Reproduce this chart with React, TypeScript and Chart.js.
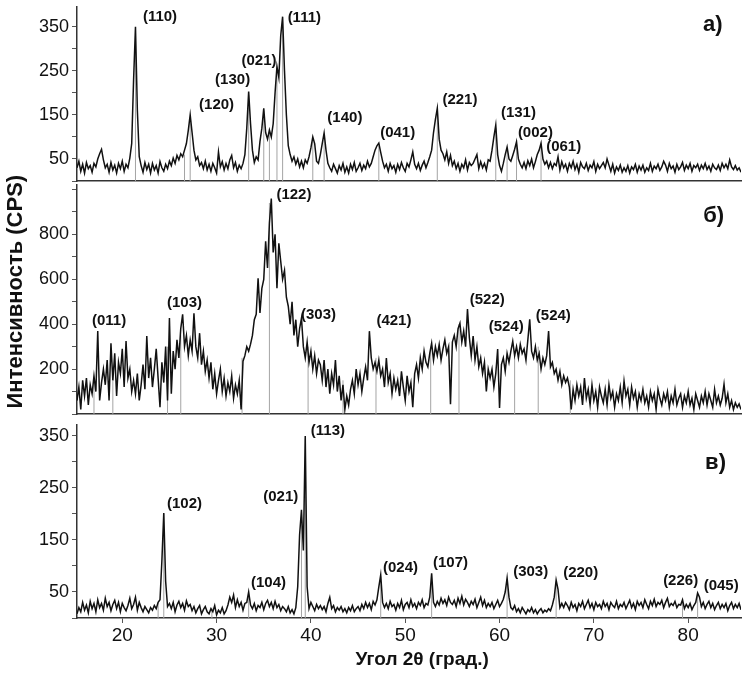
import React, { useEffect, useRef } from 'react';
import { Chart, registerables } from 'chart.js';

Chart.register(...registerables);

const FONT = "'Liberation Sans', Arial, Helvetica, sans-serif";

// 2θ sampling of the scans (degrees)
const X_START = 15.2;
const X_STEP = 0.2;
const X_MIN = 15.2;
const X_MAX = 85.6;
const X_TICKS = [20, 30, 40, 50, 60, 70, 80];

// Y tick positions / labelled ticks
const Y_TICKS_A = [0, 50, 100, 150, 200, 250, 300, 350];
const Y_LABELS_A = [50, 150, 250, 350];
const Y_TICKS_B = [0, 100, 200, 300, 400, 500, 600, 700, 800, 900, 1000];
const Y_LABELS_B = [200, 400, 600, 800];
const Y_TICKS_C = [0, 50, 100, 150, 200, 250, 300, 350];
const Y_LABELS_C = [50, 150, 250, 350];

// Panel a) intensity (CPS), one row = 2 degrees
const intensityA = [
  30, 45, 22, 38, 18, 42, 28, 35, 20, 40,
  32, 50, 62, 72, 48, 30, 38, 20, 42, 25,
  36, 18, 40, 28, 45, 22, 38, 30, 52, 85,
  230, 350, 160, 55, 35, 20, 42, 26, 38, 18,
  40, 25, 35, 18, 44, 30, 22, 38, 28, 45,
  35, 52, 40, 58, 48, 62, 55, 70, 85, 115,
  150, 110, 70, 48, 55, 35, 42, 28, 45, 25,
  38, 22, 40, 30, 18, 66, 32, 44, 25, 40,
  28, 48, 58, 30, 42, 22, 36, 28, 40, 60,
  120, 203, 130, 70, 42, 55, 48, 90, 120, 165,
  110, 95, 116, 100, 130, 200, 260, 235, 330, 373,
  250, 150, 80, 60, 45, 55, 38, 50, 32, 45,
  30, 48, 40, 55, 75, 100, 85, 45, 40, 60,
  85, 109, 70, 40, 30, 22, 38, 28, 18, 35,
  25, 40, 20, 32, 18, 38, 26, 42, 22, 30,
  40, 24, 36, 28, 45, 32, 40, 55, 70, 80,
  86, 65, 45, 30, 38, 22, 40, 28, 35, 20,
  38, 26, 42, 30, 22, 40, 32, 48, 66, 38,
  28, 40, 24, 36, 45, 30, 42, 55, 70, 110,
  140, 165, 95, 70, 62, 48, 66, 40, 58, 35,
  45, 28, 40, 22, 38, 30, 48, 25, 42, 35,
  40, 50, 60, 28, 44, 30, 40, 25, 48, 45,
  70, 100, 127, 60, 35, 22, 40, 60, 77, 50,
  45, 58, 72, 89, 50, 38, 30, 42, 28, 46,
  35, 50, 30, 44, 60, 70, 86, 50, 38, 45,
  30, 42, 28, 40, 35, 55, 25, 44, 30, 38,
  22, 40, 30, 45, 26, 38, 20, 42, 32, 28,
  40, 24, 36, 30, 44, 22, 38, 28, 35, 42,
  30, 50, 36, 22, 38, 18, 32, 24, 36, 20,
  30, 22, 35, 18, 32, 26, 38, 20, 34, 25,
  36, 20, 30, 24, 40, 22, 34, 28, 38, 24,
  32, 45, 36, 22, 40, 28, 34, 20, 38, 26,
  32, 42, 24, 36, 28, 40, 22, 35, 30, 38,
  24, 36, 28, 40, 26, 34, 22, 38, 30, 26,
  36, 24, 40, 30, 38, 28, 48, 32, 26, 35,
  25, 30, 20,
];

// Panel б) intensity (CPS)
const intensityB = [
  60, 120, 20, 150, 80, 160, 40, 130, 90, 170,
  100, 370, 60, 140, 200, 130, 240, 60, 315, 150,
  270, 80, 230, 180, 290, 120, 325, 160, 200, 100,
  150, 90, 180, 60, 130, 220, 110, 347, 160, 250,
  120, 200, 290, 160, 30, 230, 140, 300, 60, 427,
  90, 280, 200, 330, 250, 380, 444, 300, 350, 260,
  330, 280, 449, 300, 250, 360, 220, 280, 190, 240,
  160, 230, 110, 180, 90, 150, 200, 100, 160, 80,
  140, 100, 170, 70, 130, 90, 150, 20, 235, 260,
  300, 280, 311, 350, 420, 444, 605, 450, 560, 600,
  769, 650, 850, 960, 720, 800, 560, 760, 680, 600,
  640, 520, 480, 400, 500, 350, 420, 300, 380, 427,
  300, 250, 320, 230, 280, 200, 260, 180, 240, 220,
  150, 240, 120, 200, 90, 180, 130, 240, 100, 170,
  60, 130, 20, 80, 40, 110, 150, 90, 200, 130,
  180, 100, 160, 210, 150, 369, 250, 200, 230, 190,
  240, 170, 200, 120, 249, 140, 180, 90, 160, 110,
  150, 80, 190, 120, 60, 170, 100, 140, 30, 180,
  220, 160, 250, 200, 280, 230, 210, 270, 316, 240,
  300, 260, 310, 240, 290, 330, 270, 300, 44, 320,
  350, 300, 380, 404, 320, 370, 300, 467, 340, 260,
  347, 240, 300, 210, 250, 180, 230, 100, 200, 160,
  200, 120, 180, 289, 27, 220, 250, 190, 270, 230,
  280, 324, 260, 300, 250, 310, 270, 290, 240, 330,
  422, 280, 250, 300, 240, 270, 200, 250, 220, 260,
  369, 210, 230, 180, 200, 150, 190, 130, 170, 140,
  160, 120, 20, 110, 60, 130, 80, 120, 40, 160,
  70, 110, 40, 130, 60, 100, 30, 120, 80, 50,
  110, 40, 130, 70, 100, 30, 90, 60, 120, 50,
  147, 80, 110, 40, 120, 70, 100, 30, 90, 60,
  110, 50, 80, 30, 100, 60, 90, 20, 110, 70,
  40, 90, 60, 100, 30, 80, 50, 110, 40, 70,
  90, 30, 80, 50, 100, 40, 70, 20, 90, 60,
  30, 80, 50, 100, 40, 90, 60, 30, 110, 50,
  80, 40, 70, 133, 50, 90, 30, 60, 20, 50,
  30, 45, 20,
];

// Panel в) intensity (CPS)
const intensityC = [
  8, 20, 12, 30, 15, 25, 10, 32, 18, 28,
  12, 35, 20, 28, 15, 38, 22, 30, 14, 26,
  34, 18, 30, 12, 28, 20, 14, 24, 38, 18,
  26, 40, 15, 30, 20, 12, 22, 16, 10, 20,
  15, 24, 18, 30, 35, 110, 202, 70, 22, 28,
  18, 30, 12, 25, 32, 20, 28, 15, 33, 22,
  26, 14, 22, 10, 18, 24, 8, 16, 22, 12,
  8, 18, 12, 24, 6, 15, 10, 20, 8, 14,
  25, 40, 30, 44, 20, 35, 22, 30, 15, 28,
  30, 50, 25, 18, 28, 14, 24, 20, 30, 16,
  28, 34, 22, 30, 18, 32, 20, 26, 14, 22,
  18, 12, 22, 10, 16, 8, 20, 60, 160, 208,
  130, 350, 60, 18, 30, 22, 14, 26, 18, 24,
  16, 22, 12, 28, 40, 18, 24, 12, 20, 15,
  22, 12, 18, 10, 20, 14, 24, 12, 18, 22,
  14, 26, 18, 30, 20, 28, 16, 32, 25, 35,
  60, 83, 30, 20, 28, 18, 32, 22, 26, 15,
  28, 20, 34, 16, 26, 30, 20, 35, 22, 28,
  18, 30, 24, 35, 20, 28, 25, 40, 86, 30,
  22, 32, 25, 38, 28, 35, 24, 40, 30, 26,
  34, 22, 38, 28, 42, 25, 36, 30, 22, 32,
  26, 36, 20, 30, 40, 24, 34, 20, 28, 22,
  30, 18, 26, 34, 22, 28, 36, 50, 77, 40,
  20, 16, 24, 12, 18, 10, 20, 14, 8, 16,
  12, 20, 10, 16, 8, 14, 18, 10, 15, 12,
  18, 14, 25, 40, 73, 55, 20, 28, 20, 30,
  24, 16, 30, 20, 26, 14, 28, 22, 32, 18,
  26, 34, 20, 28, 16, 30, 22, 26, 18, 32,
  22, 28, 16, 30, 24, 20, 32, 18, 26, 22,
  30, 18, 26, 34, 20, 28, 16, 32, 24, 30,
  20, 35, 26, 18, 32, 24, 36, 22, 30, 26,
  34, 20, 30, 38, 22, 28, 24, 32, 20, 26,
  25, 35, 18, 26, 20, 28, 16, 24, 30, 48,
  40, 22, 30, 18, 26, 32, 20, 28, 16, 24,
  30, 18, 26, 20, 28, 14, 24, 30, 18, 26,
  20, 28, 16,
];

// Reference (stick) lines: positions (2θ) and heights
const sticksPosA = [21.4, 26.6, 27.2, 33.4, 35.0, 35.6, 36.4, 37.0, 40.2, 41.4, 47.2, 53.4, 59.6, 60.8, 61.8, 64.4];
const sticksHA = [340, 60, 140, 195, 160, 110, 250, 360, 95, 105, 80, 160, 120, 70, 85, 80];
const sticksPosB = [17.0, 19.0, 24.8, 26.2, 32.7, 35.6, 39.7, 43.4, 46.9, 52.7, 55.7, 61.6, 64.1, 67.5];
const sticksHB = [150, 200, 300, 350, 250, 940, 300, 150, 250, 300, 400, 280, 300, 150];
const sticksPosC = [23.8, 24.4, 29.5, 33.4, 39.0, 39.4, 47.4, 52.8, 60.8, 66.0, 79.4, 81.0];
const sticksHC = [30, 200, 20, 45, 205, 345, 80, 84, 75, 70, 33, 45];

// Peak labels: text, 2θ of label centre, intensity of label centre
const peakLabelsA: [string, number, number][] = [
  ['(110)', 24.0, 373], ['(120)', 30.0, 173], ['(130)', 31.7, 230], ['(021)', 34.5, 273],
  ['(111)', 39.3, 370], ['(140)', 43.6, 143], ['(041)', 49.2, 109], ['(221)', 55.8, 184],
  ['(131)', 62.0, 155], ['(002)', 63.8, 109], ['(061)', 66.8, 77],
];
const peakLabelsB: [string, number, number][] = [
  ['(011)', 18.6, 417], ['(103)', 26.6, 497], ['(122)', 38.2, 976], ['(303)', 40.8, 443],
  ['(421)', 48.8, 417], ['(522)', 58.7, 510], ['(524)', 60.7, 390], ['(524)', 65.7, 439],
];
const peakLabelsC: [string, number, number][] = [
  ['(102)', 26.6, 219], ['(104)', 35.5, 67], ['(021)', 36.8, 233], ['(113)', 41.8, 360],
  ['(024)', 49.5, 96], ['(107)', 54.8, 106], ['(303)', 63.3, 88], ['(220)', 68.6, 87],
  ['(226)', 79.2, 71], ['(045)', 83.5, 62],
];
const panelMarkA: [string, number, number] = ['а)', 82.6, 355];
const panelMarkB: [string, number, number] = ['б)', 82.7, 882];
const panelMarkC: [string, number, number] = ['в)', 82.9, 298];

const X_TITLE = 'Угол 2θ (град.)';
const Y_TITLE = 'Интенсивность (CPS)';

const toPoints = (vals: number[]) =>
  vals.map((v, i) => ({ x: +(X_START + i * X_STEP).toFixed(2), y: v }));
const toSticks = (pos: number[], h: number[]) =>
  pos.flatMap((p, i) => [
    { x: p, y: 0 },
    { x: p, y: h[i] },
    { x: p, y: null as any },
  ]);

const textPlugin = {
  id: 'xrdText',
  afterDatasetsDraw(chart: any, _args: any, opts: any) {
    const { ctx } = chart;
    const xs = chart.scales.x;
    const ys = chart.scales.y;
    ctx.save();
    ctx.fillStyle = '#111';
    ctx.textAlign = 'center';
    ctx.textBaseline = 'middle';
    (opts.items || []).forEach((it: any) => {
      ctx.font = `bold ${it.size}px ${FONT}`;
      const px = it.px !== undefined ? it.px : xs.getPixelForValue(it.x);
      const py = ys.getPixelForValue(it.y);
      if (it.rotate) {
        ctx.save();
        ctx.translate(px, py);
        ctx.rotate(-Math.PI / 2);
        ctx.fillText(it.text, 0, 0);
        ctx.restore();
      } else {
        ctx.fillText(it.text, px, py);
      }
    });
    ctx.restore();
  },
};

type PanelDef = {
  top: number;
  height: number;
  padTop: number;
  padBottom: number;
  xHeight: number;
  showX: boolean;
  values: number[];
  yMax: number;
  yTicks: number[];
  yLabels: number[];
  sticksPos: number[];
  sticksH: number[];
  labels: [string, number, number][];
  mark: [string, number, number];
  extra: any[];
};

const panels: PanelDef[] = [
  {
    top: 0, height: 182, padTop: 7, padBottom: 1, xHeight: 0, showX: false,
    values: intensityA, yMax: 395, yTicks: Y_TICKS_A, yLabels: Y_LABELS_A,
    sticksPos: sticksPosA, sticksH: sticksHA, labels: peakLabelsA, mark: panelMarkA, extra: [],
  },
  {
    top: 160, height: 256, padTop: 25, padBottom: 2, xHeight: 0, showX: false,
    values: intensityB, yMax: 1020, yTicks: Y_TICKS_B, yLabels: Y_LABELS_B,
    sticksPos: sticksPosB, sticksH: sticksHB, labels: peakLabelsB, mark: panelMarkB,
    extra: [{ text: Y_TITLE, px: 16, y: 545, rotate: true, size: 22 }],
  },
  {
    top: 414, height: 259, padTop: 11, padBottom: 0, xHeight: 55, showX: true,
    values: intensityC, yMax: 371, yTicks: Y_TICKS_C, yLabels: Y_LABELS_C,
    sticksPos: sticksPosC, sticksH: sticksHC, labels: peakLabelsC, mark: panelMarkC,
    extra: [{ text: X_TITLE, x: 51.8, y: -81, size: 19 }],
  },
];

function buildConfig(p: PanelDef): any {
  const items = [
    ...p.labels.map(([text, x, y]) => ({ text, x, y, size: 15 })),
    { text: p.mark[0], x: p.mark[1], y: p.mark[2], size: 22 },
    ...p.extra,
  ];
  return {
    type: 'line',
    data: {
      datasets: [
        {
          data: toPoints(p.values),
          borderColor: '#111',
          borderWidth: 1.5,
          pointRadius: 0,
          tension: 0,
          fill: false,
          order: 0,
        },
        {
          data: toSticks(p.sticksPos, p.sticksH),
          borderColor: '#a4a4a4',
          borderWidth: 1,
          pointRadius: 0,
          tension: 0,
          fill: false,
          spanGaps: false,
          order: 1,
        },
      ],
    },
    options: {
      responsive: false,
      animation: false,
      devicePixelRatio: 1,
      events: [],
      layout: { padding: { top: p.padTop, bottom: p.padBottom, left: 0, right: 8 } },
      plugins: {
        legend: { display: false },
        tooltip: { enabled: false },
        xrdText: { items },
      },
      scales: {
        x: {
          type: 'linear',
          min: X_MIN,
          max: X_MAX,
          afterFit: (s: any) => {
            s.height = p.xHeight;
            s.paddingLeft = 0;
            s.paddingRight = 0;
          },
          afterBuildTicks: (s: any) => { s.ticks = X_TICKS.map((v) => ({ value: v })); },
          ticks: {
            display: p.showX,
            autoSkip: false,
            maxRotation: 0,
            padding: 1,
            color: '#111',
            font: { family: FONT, size: 19 },
            callback: (v: any) => String(v),
          },
          grid: { drawOnChartArea: false, drawTicks: p.showX, tickLength: 5, color: '#555' },
          border: { display: true, color: '#333', width: 1.5 },
        },
        y: {
          type: 'linear',
          min: 0,
          max: p.yMax,
          afterFit: (s: any) => {
            s.width = 77;
            s.paddingTop = 0;
            s.paddingBottom = 0;
          },
          afterBuildTicks: (s: any) => { s.ticks = p.yTicks.map((v) => ({ value: v })); },
          ticks: {
            autoSkip: false,
            padding: 3,
            color: '#111',
            font: { family: FONT, size: 18 },
            callback: (v: any) => (p.yLabels.includes(v) ? String(v) : ''),
          },
          grid: { drawOnChartArea: false, drawTicks: true, tickLength: 5, color: '#555' },
          border: { display: true, color: '#333', width: 1.5 },
        },
      },
    },
    plugins: [textPlugin],
  };
}

export default function App() {
  const refs = [useRef<HTMLCanvasElement>(null), useRef<HTMLCanvasElement>(null), useRef<HTMLCanvasElement>(null)];

  useEffect(() => {
    const charts = panels.map((p, i) => new Chart(refs[i].current as HTMLCanvasElement, buildConfig(p)));
    return () => charts.forEach((c) => c.destroy());
  }, []);

  return (
    <div style={{ position: 'fixed', left: 0, top: 0, width: 749, height: 673, background: '#fff', overflow: 'hidden' }}>
      {panels.map((p, i) => (
        <canvas
          key={i}
          ref={refs[i]}
          width={749}
          height={p.height}
          style={{ position: 'absolute', left: 0, top: p.top, width: 749, height: p.height }}
        />
      ))}
    </div>
  );
}
